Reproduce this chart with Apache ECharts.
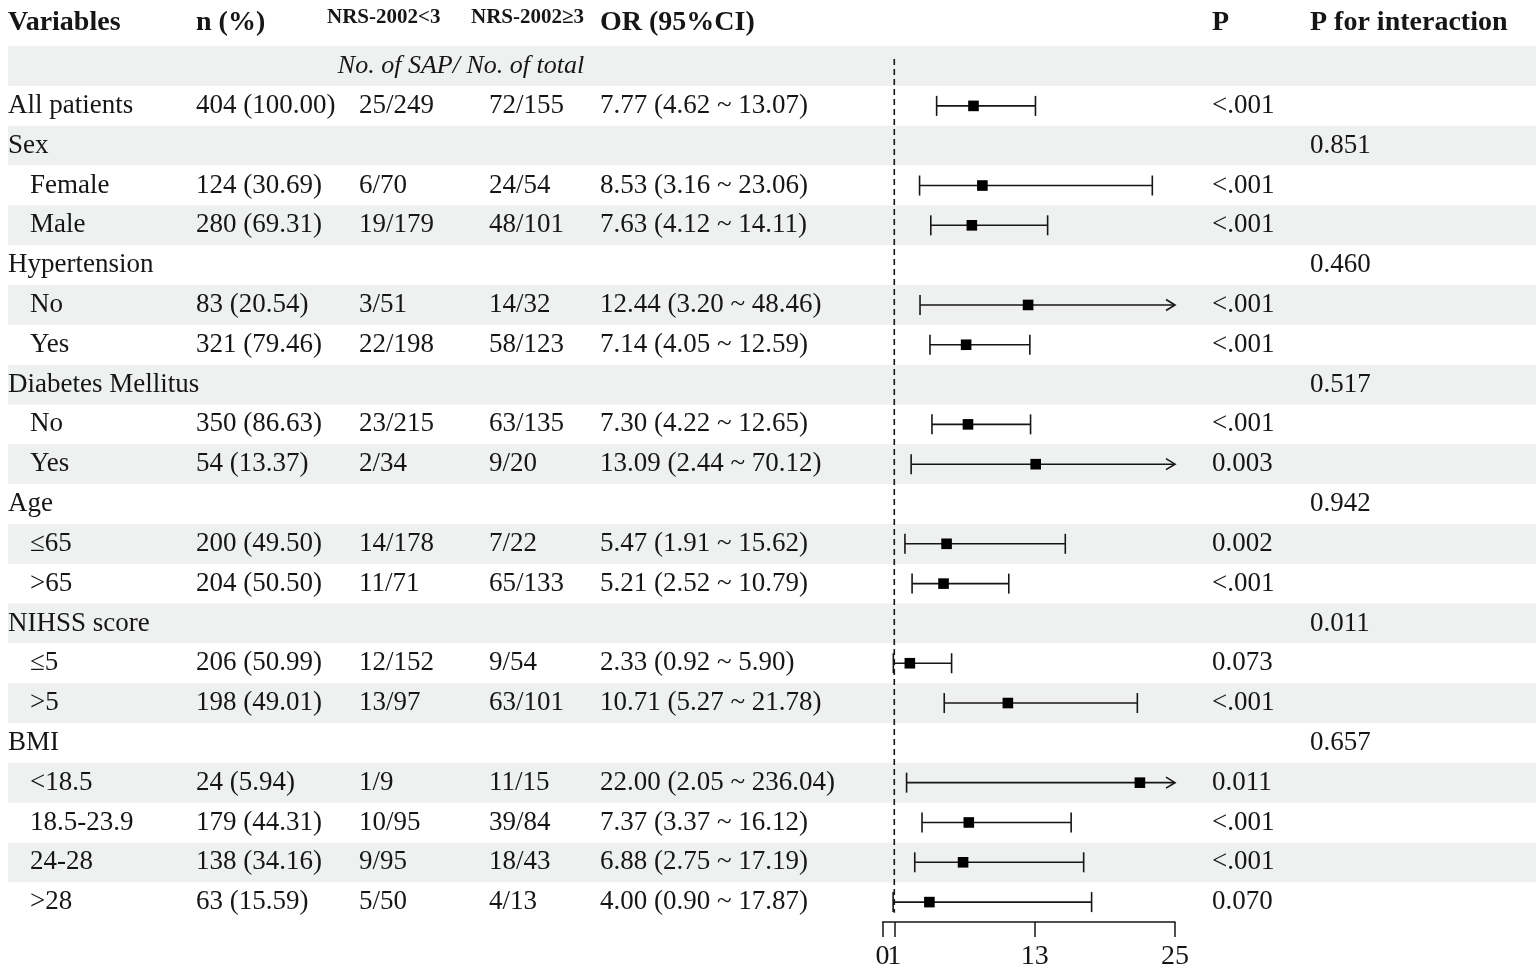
<!DOCTYPE html>
<html>
<head>
<meta charset="utf-8">
<script src="https://cdn.jsdelivr.net/npm/echarts@6/dist/echarts.min.js"></script>
<style>
html,body{margin:0;padding:0;background:#fff;}
#chart{width:1536px;height:976px;}
</style>
</head>
<body>
<div id="chart"></div>
<script>
// ---------- data ----------
const variables = ['All patients','Sex','Female','Male','Hypertension','No','Yes','Diabetes Mellitus','No','Yes','Age','\u226465','>65','NIHSS score','\u22645','>5','BMI','<18.5','18.5-23.9','24-28','>28'];
const level = [0,0,1,1,0,1,1,0,1,1,0,1,1,0,1,1,0,1,1,1,1];
const nPct = ['404 (100.00)','','124 (30.69)','280 (69.31)','','83 (20.54)','321 (79.46)','','350 (86.63)','54 (13.37)','','200 (49.50)','204 (50.50)','','206 (50.99)','198 (49.01)','','24 (5.94)','179 (44.31)','138 (34.16)','63 (15.59)'];
const nrsLow = ['25/249','','6/70','19/179','','3/51','22/198','','23/215','2/34','','14/178','11/71','','12/152','13/97','','1/9','10/95','9/95','5/50'];
const nrsHigh = ['72/155','','24/54','48/101','','14/32','58/123','','63/135','9/20','','7/22','65/133','','9/54','63/101','','11/15','39/84','18/43','4/13'];
const orVal = [7.77,null,8.53,7.63,null,12.44,7.14,null,7.30,13.09,null,5.47,5.21,null,2.33,10.71,null,22.00,7.37,6.88,4.00];
const ciLow = [4.62,null,3.16,4.12,null,3.20,4.05,null,4.22,2.44,null,1.91,2.52,null,0.92,5.27,null,2.05,3.37,2.75,0.90];
const ciHigh = [13.07,null,23.06,14.11,null,48.46,12.59,null,12.65,70.12,null,15.62,10.79,null,5.90,21.78,null,236.04,16.12,17.19,17.87];
const pVal = ['<.001','','<.001','<.001','','<.001','<.001','','<.001','0.003','','0.002','<.001','','0.073','<.001','','0.011','<.001','<.001','0.070'];
const pInter = ['','0.851','','','0.460','','','0.517','','','0.942','','','0.011','','','0.657','','','',''];
const headers = ['Variables','n (%)','NRS-2002<3','NRS-2002\u22653','OR (95%CI)','P','P for interaction'];
const subHeader = 'No. of SAP/ No. of total';
const axisTicks = [0,1,13,25];
const axisTickLabels = ['0','1','13','25'];
const refValue = 1;
const axisMax = 25;

// ---------- layout ----------
const FONT = "'Liberation Serif','Times New Roman',serif";
const INK = '#161616';
const headerX = [8,196,327,471,600,1212,1310];
const headerSmall = [false,false,true,true,false,false,false];
const colX = {n:196, low:359, high:489, or:600, p:1212, pi:1310};
const Y_MIN = -1.66, Y_MAX = 21.5;

const fmt = v => v.toFixed(2);
const orText = orVal.map((v,i) => v==null ? '' : fmt(v)+' ('+fmt(ciLow[i])+' ~ '+fmt(ciHigh[i])+')');

const chart = echarts.init(document.getElementById('chart'), null, {renderer:'canvas'});

function txt(api, x, row, text, opt) {
  const p = api.coord([x, row]);
  opt = opt || {};
  return {
    type:'text',
    style:{
      x:p[0] + (opt.dx||0), y:p[1] + (opt.dy||0), text:text,
      fill:INK,
      font:(opt.italic?'italic ':'')+(opt.bold?'bold ':'')+(opt.size||27)+'px '+FONT,
      textAlign:opt.align||'left', textVerticalAlign:'middle'
    }
  };
}

const totalRows = variables.length + 1; // + sub header row
const bandRows = [];
for (let r = 0; r < totalRows; r++) if (r % 2 === 0) bandRows.push([0, r]);

const option = {
  animation:false,
  grid:[
    {left:0, top:0, width:1536, height:922, containLabel:false},
    {left:882.6, top:0, width:292.4, height:922, containLabel:false}
  ],
  xAxis:[
    {type:'value', gridIndex:0, min:0, max:1536, show:false},
    {type:'value', gridIndex:1, min:0, max:axisMax, position:'bottom',
      axisLine:{show:true, onZero:false, lineStyle:{color:INK, width:1.5}},
      axisTick:{show:true, customValues:axisTicks, length:15, lineStyle:{color:INK, width:1.5}},
      axisLabel:{show:false},
      splitLine:{show:false}
    }
  ],
  yAxis:[
    {type:'value', gridIndex:0, min:Y_MIN, max:Y_MAX, inverse:true, show:false},
    {type:'value', gridIndex:1, min:Y_MIN, max:Y_MAX, inverse:true, show:false}
  ],
  series:[
    { // bands
      type:'custom', xAxisIndex:0, yAxisIndex:0, silent:true, z:1,
      data:bandRows,
      renderItem:function(params, api){
        const r = api.value(1);
        const a = api.coord([8, r-0.5]);
        const b = api.coord([1536, r+0.5]);
        return {type:'rect', shape:{x:a[0], y:a[1], width:b[0]-a[0], height:b[1]-a[1]}, style:{fill:'#eef1f0'}};
      }
    },
    { // headers
      type:'custom', xAxisIndex:0, yAxisIndex:0, silent:true, z:3,
      data:headers.map((h,i)=>[headerX[i], headerSmall[i]?-1.23:-1.1]),
      renderItem:function(params, api){
        const i = params.dataIndex;
        return txt(api, api.value(0), api.value(1), headers[i], {bold:true, size: headerSmall[i]?21:28});
      }
    },
    { // sub header
      type:'custom', xAxisIndex:0, yAxisIndex:0, silent:true, z:3,
      data:[[461, 0]],
      renderItem:function(params, api){
        return txt(api, api.value(0), api.value(1), subHeader, {italic:true, size:26, align:'center'});
      }
    },
    { // table rows
      type:'custom', xAxisIndex:0, yAxisIndex:0, silent:true, z:3,
      data:variables.map((v,i)=>[0, i+1]),
      renderItem:function(params, api){
        const i = params.dataIndex;
        const r = api.value(1);
        const ch = [
          txt(api, level[i] ? 30 : 8, r, variables[i]),
          txt(api, colX.n, r, nPct[i]),
          txt(api, colX.low, r, nrsLow[i]),
          txt(api, colX.high, r, nrsHigh[i]),
          txt(api, colX.or, r, orText[i]),
          txt(api, colX.p, r, pVal[i]),
          txt(api, colX.pi, r, pInter[i])
        ];
        return {type:'group', children:ch};
      }
    },
    { // axis tick labels (drawn through the forest x scale)
      type:'custom', xAxisIndex:1, yAxisIndex:1, silent:true, z:4,
      data:axisTicks.map(v=>[v, Y_MAX]),
      renderItem:function(params, api){
        return txt(api, api.value(0), api.value(1), axisTickLabels[params.dataIndex], {size:28, align:'center', dy:35});
      }
    },
    { // reference dashed line
      type:'custom', xAxisIndex:1, yAxisIndex:1, silent:true, z:4,
      data:[[refValue, -0.18, 21.27]],
      renderItem:function(params, api){
        const a = api.coord([api.value(0), api.value(1)]);
        const b = api.coord([api.value(0), api.value(2)]);
        return {type:'line', shape:{x1:a[0], y1:a[1], x2:b[0], y2:b[1]}, style:{stroke:INK, lineWidth:1.6, lineDash:[6,4]}};
      }
    },
    { // forest marks
      type:'custom', xAxisIndex:1, yAxisIndex:1, silent:true, z:5,
      data:orVal.map((v,i)=> v==null ? null : [v, i+1, ciLow[i], ciHigh[i]]).filter(d=>d),
      encode:{x:[0,2,3], y:1},
      renderItem:function(params, api){
        const est = api.value(0), r = api.value(1), lo = api.value(2), hi = api.value(3);
        const pLo = api.coord([Math.max(lo,0), r]);
        const pHi = api.coord([Math.min(hi,axisMax), r]);
        const pE = api.coord([est, r]);
        const st = {stroke:INK, lineWidth:1.6, fill:null};
        const ch = [{type:'line', shape:{x1:pLo[0], y1:pLo[1], x2:pHi[0], y2:pHi[1]}, style:st}];
        if (lo >= 0) ch.push({type:'line', shape:{x1:pLo[0], y1:pLo[1]-10, x2:pLo[0], y2:pLo[1]+10}, style:st});
        if (hi <= axisMax) ch.push({type:'line', shape:{x1:pHi[0], y1:pHi[1]-10, x2:pHi[0], y2:pHi[1]+10}, style:st});
        else ch.push({type:'polyline', shape:{points:[[pHi[0]-9,pHi[1]-5.5],[pHi[0],pHi[1]],[pHi[0]-9,pHi[1]+5.5]]}, style:st});
        ch.push({type:'rect', shape:{x:pE[0]-5.3, y:pE[1]-5.3, width:10.6, height:10.6}, style:{fill:'#000'}});
        return {type:'group', children:ch};
      }
    }
  ]
};
chart.setOption(option);
</script>
</body>
</html>
